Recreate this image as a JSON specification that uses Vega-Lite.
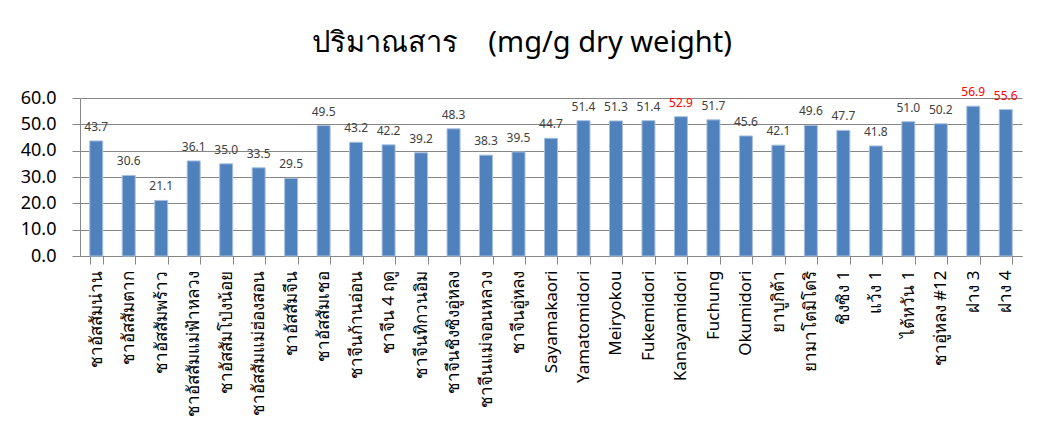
{
  "$schema": "https://vega.github.io/schema/vega-lite/v6.json",
  "autosize": "none",
  "width": 942,
  "height": 158,
  "padding": {"left": 80, "top": 98, "right": 16, "bottom": 180},
  "background": "white",
  "title": {
    "text": "ปริมาณสาร\u00a0\u00a0\u00a0 (mg/g dry weight)",
    "fontSize": 29,
    "font": "Noto Sans",
    "fontWeight": "normal",
    "color": "#000000",
    "anchor": "middle",
    "dx": -29,
    "offset": 28
  },
  "data": {
    "values": [
      {"name": "ชาอัสสัมน่าน", "value": 43.7},
      {"name": "ชาอัสสัมตาก", "value": 30.6},
      {"name": "ชาอัสสัมพร้าว", "value": 21.1},
      {"name": "ชาอัสสัมแม่ฟ้าหลวง", "value": 36.1},
      {"name": "ชาอัสสัมโป่งน้อย", "value": 35.0},
      {"name": "ชาอัสสัมแม่ฮ่องสอน", "value": 33.5},
      {"name": "ชาอัสสัมจีน", "value": 29.5},
      {"name": "ชาอัสสัมเชอ", "value": 49.5},
      {"name": "ชาจีนก้านอ่อน", "value": 43.2},
      {"name": "ชาจีน 4 ฤดู", "value": 42.2},
      {"name": "ชาจีนทิกวนอิม", "value": 39.2},
      {"name": "ชาจีนชิงซิงอู่หลง", "value": 48.3},
      {"name": "ชาจีนแม่จอนหลวง", "value": 38.3},
      {"name": "ชาจีนอู่หลง", "value": 39.5},
      {"name": "Sayamakaori", "value": 44.7},
      {"name": "Yamatomidori", "value": 51.4},
      {"name": "Meiryokou", "value": 51.3},
      {"name": "Fukemidori", "value": 51.4},
      {"name": "Kanayamidori", "value": 52.9},
      {"name": "Fuchung", "value": 51.7},
      {"name": "Okumidori", "value": 45.6},
      {"name": "ยาบูกิต้า", "value": 42.1},
      {"name": "ยามาโตมิโดริ", "value": 49.6},
      {"name": "ชิงซิง 1", "value": 47.7},
      {"name": "แว้ง 1", "value": 41.8},
      {"name": "ไต้หวัน 1", "value": 51.0},
      {"name": "ชาอู่หลง #12", "value": 50.2},
      {"name": "ฝาง 3", "value": 56.9},
      {"name": "ฝาง 4", "value": 55.6}
    ]
  },
  "encoding": {
    "x": {
      "field": "name",
      "type": "nominal",
      "sort": null,
      "scale": {"paddingInner": 0.6, "paddingOuter": 0.3},
      "axis": {
        "title": null,
        "labelAngle": -90,
        "labelFont": "Noto Sans",
        "labelFontSize": 17,
        "labelColor": "#000000",
        "labelPadding": 6,
        "tickBand": "extent",
        "tickSize": 8,
        "tickColor": "#868686",
        "domainColor": "#868686",
        "labelLimit": 200
      }
    },
    "y": {
      "field": "value",
      "type": "quantitative",
      "scale": {"domain": [0, 60], "nice": false},
      "axis": {
        "title": null,
        "values": [0, 10, 20, 30, 40, 50, 60],
        "format": ".1f",
        "labelFont": "Noto Sans",
        "labelFontSize": 18,
        "labelColor": "#000000",
        "labelPadding": 16,
        "tickSize": 8,
        "tickColor": "#868686",
        "domainColor": "#868686",
        "gridColor": "#868686",
        "gridWidth": 1
      }
    }
  },
  "layer": [
    {
      "mark": {"type": "bar", "color": "#4F81BD", "stroke": "#A7C0DE", "strokeWidth": 1}
    },
    {
      "mark": {"type": "text", "baseline": "alphabetic", "dy": -10, "font": "Noto Sans", "fontSize": 12},
      "encoding": {
        "text": {"field": "value", "type": "quantitative", "format": ".1f"},
        "color": {
          "condition": {"test": "datum.value > 52.5", "value": "#FF0000"},
          "value": "#404040"
        },
        "fontWeight": {
          "condition": {"test": "datum.value > 52.5", "value": "bold"},
          "value": "normal"
        }
      }
    }
  ],
  "config": {
    "view": {"stroke": null}
  }
}
